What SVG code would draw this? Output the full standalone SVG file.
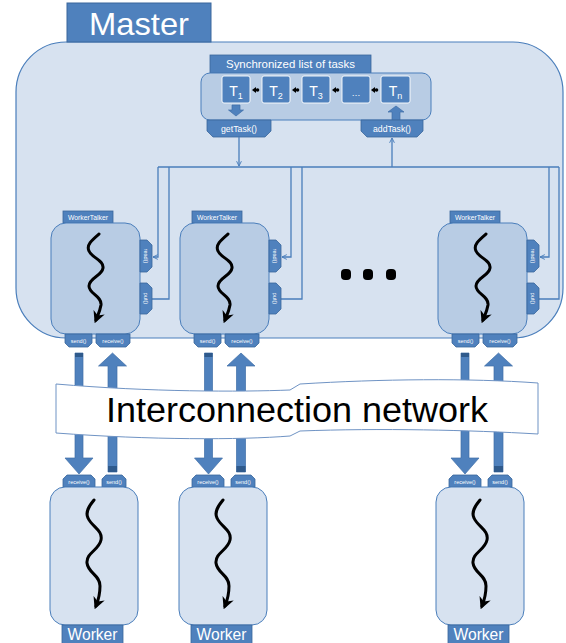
<svg xmlns="http://www.w3.org/2000/svg" xmlns:xlink="http://www.w3.org/1999/xlink" width="566" height="643" viewBox="0 0 566 643">
  <style>
    .lbl { fill: #ffffff; font-family: "Liberation Sans", Arial, sans-serif; text-anchor: middle; }
    .tab { fill: #4f81bd; stroke: #3a679c; stroke-width: 0.8; }
    .task { fill: #4f81bd; stroke: #ffffff; stroke-width: 0.9; }
    .conn { fill: none; stroke: #4a7ebb; stroke-width: 1.3; }
    .thread { fill: none; stroke: #000000; stroke-width: 3; stroke-linecap: round; marker-end: url(#head); }
    .blk { fill: #4f81bd; stroke: #3f6fa8; stroke-width: 0.7; }
    .band { fill: #2f5a8c; }
  </style>
  <defs>
    <marker id="tip" viewBox="0 0 10 10" refX="9" refY="5" markerWidth="6" markerHeight="6" orient="auto" markerUnits="userSpaceOnUse">
      <path d="M1,1 L9,5 L1,9" fill="none" stroke="#4a7ebb" stroke-width="1.6"/>
    </marker>
    <marker id="head" viewBox="0 0 10 10" refX="7" refY="5" markerWidth="12" markerHeight="12" orient="auto" markerUnits="userSpaceOnUse">
      <path d="M0,0 L10,5 L0,10 L3,5 Z" fill="#000000"/>
    </marker>
    <!-- block arrows from master to network and back, centered on x=0 -->
    <g id="downArrow">
      <path class="blk" d="M-4,353 H4 V458 H14 L0,474 L-14,458 H-4 Z"/>
      <rect class="band" x="-4" y="353" width="8" height="4"/>
    </g>
    <g id="upArrow">
      <path class="blk" d="M0,353 L14,366 H4.5 V472 H-4.5 V366 H-14 Z"/>
      <rect class="band" x="-4.5" y="466" width="9" height="6"/>
    </g>
  </defs>

  <!-- Master -->
  <g id="master">
    <rect x="16" y="42" width="547" height="296" rx="50" ry="50" fill="#d7e2f0" stroke="#4a7ebb" stroke-width="1.2"/>
    <rect x="67" y="3" width="144" height="39" fill="#4f81bd" stroke="#3a679c" stroke-width="1"/>
    <text class="lbl" x="139" y="35" font-size="32" textLength="100" lengthAdjust="spacingAndGlyphs">Master</text>
  </g>

  <!-- Synchronized list of tasks -->
  <g id="taskList">
    <rect class="tab" x="210" y="55" width="161" height="18"/>
    <text class="lbl" x="290.5" y="68" font-size="10.5" textLength="129" lengthAdjust="spacingAndGlyphs">Synchronized list of tasks</text>
    <rect x="201" y="73" width="230" height="47" rx="9" fill="#b8cce4" stroke="#4a7ebb" stroke-width="1"/>
    <rect class="task" x="222" y="76" width="28" height="27" rx="2"/>
    <rect class="task" x="262" y="76" width="28" height="27" rx="2"/>
    <rect class="task" x="302" y="76" width="28" height="27" rx="2"/>
    <rect class="task" x="342" y="76" width="28" height="27" rx="2"/>
    <rect class="task" x="381" y="76" width="29" height="27" rx="2"/>
    <text class="lbl" x="236" y="96" font-size="14">T<tspan font-size="9" dy="3">1</tspan></text>
    <text class="lbl" x="276" y="96" font-size="14">T<tspan font-size="9" dy="3">2</tspan></text>
    <text class="lbl" x="316" y="96" font-size="14">T<tspan font-size="9" dy="3">3</tspan></text>
    <text class="lbl" x="356" y="96" font-size="9">…</text>
    <text class="lbl" x="395.5" y="96" font-size="14">T<tspan font-size="9" dy="3">n</tspan></text>
    <!-- links between queued tasks -->
    <g fill="#000000">
      <path d="M252,90 L256,87 V93 Z"/><circle cx="257.5" cy="90" r="1.8"/>
      <path d="M292,90 L296,87 V93 Z"/><circle cx="297.5" cy="90" r="1.8"/>
      <path d="M332,90 L336,87 V93 Z"/><circle cx="337.5" cy="90" r="1.8"/>
      <path d="M371,90 L375,87 V93 Z"/><circle cx="376.5" cy="90" r="1.8"/>
    </g>
    <!-- take out / put in -->
    <path class="blk" d="M232,105 H240 V110 H243.5 L236,116 L228.5,110 H232 Z"/>
    <path class="blk" d="M396,106 L404,112 H400 V120 H392 V112 H388 Z"/>
    <path class="tab" d="M207,120 H271 V131 L265,137 H213 L207,131 Z"/>
    <text class="lbl" x="239" y="131.5" font-size="9" textLength="36" lengthAdjust="spacingAndGlyphs">getTask()</text>
    <path class="tab" d="M361,120 H423 V131 L417,137 H367 L361,131 Z"/>
    <text class="lbl" x="392" y="131.5" font-size="9" textLength="38" lengthAdjust="spacingAndGlyphs">addTask()</text>
  </g>

  <!-- Connectors between the task list and the talkers -->
  <g id="connectors">
    <path class="conn" d="M239,137 V166" marker-end="url(#tip)"/>
    <path class="conn" d="M392,167 V138" marker-end="url(#tip)"/>
    <path class="conn" d="M158,167 H559"/>
    <path class="conn" d="M158,167 V257 H153" marker-end="url(#tip)"/>
    <path class="conn" d="M152,299 H169 V167"/>
    <path class="conn" d="M291,167 V257 H282" marker-end="url(#tip)"/>
    <path class="conn" d="M281,299 H302 V167"/>
    <path class="conn" d="M549,167 V257 H540" marker-end="url(#tip)"/>
    <path class="conn" d="M539,299 H559 V167"/>
  </g>

  <!-- WorkerTalker template drawn three times -->
  <defs>
    <g id="talker">
      <rect class="tab" x="63" y="211" width="50" height="12"/>
      <text class="lbl" x="88" y="220" font-size="7" textLength="40" lengthAdjust="spacingAndGlyphs">WorkerTalker</text>
      <rect x="51" y="223" width="89" height="111" rx="15" ry="15" fill="#b8cce4" stroke="#4a7ebb" stroke-width="1"/>
      <path class="tab" d="M140,240 H147 L152,245 V267 L147,272 H140 Z"/>
      <text class="lbl" font-size="5.5" transform="translate(145.5,256) rotate(90)" y="2">read()</text>
      <path class="tab" d="M140,283 H147 L152,288 V309 L147,314 H140 Z"/>
      <text class="lbl" font-size="5.5" transform="translate(145.5,298.5) rotate(90)" y="2">put()</text>
      <path class="tab" d="M65,334 H92 V343 L88,347 H69 L65,343 Z"/>
      <text class="lbl" x="78.5" y="343" font-size="5.5">send()</text>
      <path class="tab" d="M96,334 H130 V343 L126,347 H100 L96,343 Z"/>
      <text class="lbl" x="113" y="343" font-size="5.5">receive()</text>
      <path class="thread" d="M99,234 C92,240 86,245 89,251 C92,258 104,260 103,268 C102,276 89,278 89,286 C89,294 102,296 101,305 C100,311 98,315 96,320"/>
    </g>
    <g id="worker">
      <path class="tab" d="M63,487 V479 L67,475 H91 L95,479 V487 Z"/>
      <text class="lbl" x="79" y="484" font-size="5.5">receive()</text>
      <path class="tab" d="M102,487 V479 L106,475 H122 L126,479 V487 Z"/>
      <text class="lbl" x="114" y="484" font-size="5.5">send()</text>
      <rect x="50" y="487" width="88" height="138" rx="15" ry="15" fill="#d7e2f0" stroke="#4a7ebb" stroke-width="1"/>
      <rect x="62" y="625" width="61" height="20" fill="#4f81bd" stroke="#3a679c" stroke-width="0.8"/>
      <text class="lbl" x="92.5" y="640" font-size="16" textLength="50" lengthAdjust="spacingAndGlyphs">Worker</text>
      <path class="thread" d="M94,500 C89,506 85,512 88,518 C92,527 103,530 101,540 C99,550 86,553 87,563 C88,573 100,575 100,586 C100,594 98,601 96,606"/>
    </g>
  </defs>

  <g id="talker1"><use xlink:href="#talker"/></g>
  <g id="talker2"><use xlink:href="#talker" transform="translate(129,0)"/></g>
  <g id="talker3"><use xlink:href="#talker" transform="translate(387,0)"/></g>

  <!-- further talkers elided -->
  <g id="ellipsis" fill="#000000">
    <rect x="341" y="269" width="10" height="11" rx="4"/>
    <rect x="363" y="269" width="10" height="11" rx="4"/>
    <rect x="386" y="269" width="10" height="11" rx="4"/>
  </g>

  <!-- message flows through the network -->
  <g id="flows">
    <use xlink:href="#downArrow" transform="translate(79,0)"/>
    <use xlink:href="#upArrow" transform="translate(112.5,0)"/>
    <use xlink:href="#downArrow" transform="translate(208.5,0)"/>
    <use xlink:href="#upArrow" transform="translate(241,0)"/>
    <use xlink:href="#downArrow" transform="translate(465,0)"/>
    <use xlink:href="#upArrow" transform="translate(498.5,0)"/>
  </g>

  <!-- Interconnection network banner -->
  <g id="network">
    <path d="M56,384 C150,392 240,392 290,390 L300,384 C380,379 470,378 538,383 V434 C470,430 380,428 300,431 L290,436 C240,440 150,440 56,433 Z" fill="#ffffff" stroke="#6f93c4" stroke-width="1"/>
    <text x="297" y="422" font-family="Liberation Sans, Arial, sans-serif" font-size="35" text-anchor="middle" fill="#000000" textLength="382" lengthAdjust="spacingAndGlyphs">Interconnection network</text>
  </g>

  <g id="worker1"><use xlink:href="#worker"/></g>
  <g id="worker2"><use xlink:href="#worker" transform="translate(129,0)"/></g>
  <g id="worker3"><use xlink:href="#worker" transform="translate(386,0)"/></g>
</svg>
